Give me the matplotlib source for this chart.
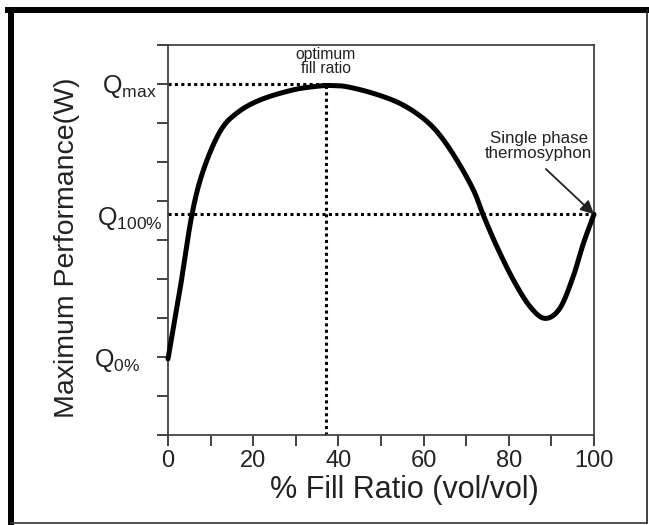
import matplotlib
matplotlib.use("Agg")
import matplotlib.pyplot as plt
from matplotlib.lines import Line2D
import numpy as np

plt.rcParams['font.family'] = ['Liberation Sans', 'DejaVu Sans']
plt.rcParams['mathtext.fontset'] = 'custom'
plt.rcParams['mathtext.rm'] = 'Liberation Sans'
plt.rcParams['mathtext.it'] = 'Liberation Sans:italic'

# Data
fill_ratio = [0, 2.8, 5.6, 8.3, 12.2, 16.1, 21.6, 29.4, 35.7, 38.5, 42, 48.2, 54.5,
              59.9, 63.8, 67.8, 71.7, 74, 77.2, 81.1, 85, 88.5, 92, 95.1, 97.5, 100]
performance = [1.95, 3.72, 5.64, 6.79, 7.78, 8.25, 8.59, 8.85, 8.95, 8.96, 8.93, 8.76, 8.5,
               8.12, 7.69, 7.05, 6.28, 5.64, 4.83, 3.97, 3.29, 2.99, 3.25, 4.06, 4.91, 5.66]
q_levels = [9.0, 5.66, 2.0]
q_labels = [r'Q$_{\mathrm{max}}$', r'Q$_{\mathrm{100\%}}$', r'Q$_{\mathrm{0\%}}$']
optimum_x = 37
x_ticks_major = [0, 20, 40, 60, 80, 100]

fig = plt.figure(figsize=(6.49, 5.25), dpi=100)
ax = fig.add_axes([168/649, 1-435/525, (594-168)/649, (435-45)/525])

xs = np.array(fill_ratio); ys = np.array(performance)

def catmull(x, y, n=20):
    px = np.concatenate([[2*x[0]-x[1]], x, [2*x[-1]-x[-2]]])
    py = np.concatenate([[2*y[0]-y[1]], y, [2*y[-1]-y[-2]]])
    ox, oy = [], []
    for i in range(1, len(px)-2):
        t = np.linspace(0, 1, n, endpoint=False)
        for arr, out in ((px, ox), (py, oy)):
            p0, p1, p2, p3 = arr[i-1], arr[i], arr[i+1], arr[i+2]
            out.extend(0.5*((2*p1) + (-p0+p2)*t + (2*p0-5*p1+4*p2-p3)*t**2 + (-p0+3*p1-3*p2+p3)*t**3))
    ox.append(x[-1]); oy.append(y[-1])
    return np.array(ox), np.array(oy)

cx, cy = catmull(xs, ys)
ax.plot(cx, cy, color='black', lw=3.6, solid_capstyle='round', solid_joinstyle='round', zorder=3, clip_on=False)

dot = dict(color='black', lw=2.2, linestyle=(0, (1, 1.1)), zorder=2)
ax.plot([0, optimum_x], [q_levels[0], q_levels[0]], **dot)
ax.plot([optimum_x, optimum_x], [0, q_levels[0]], **dot)
ax.plot([0, 100], [q_levels[1], q_levels[1]], **dot)

ax.set_xlim(0, 100)
ax.set_ylim(0, 10)
ax.set_xticks(np.arange(0, 101, 10))
ax.set_xticklabels([str(v) if v in x_ticks_major else '' for v in range(0, 101, 10)],
                   fontsize=17, color='#222222')
ax.set_yticks(np.arange(0, 11, 1))
ax.set_yticklabels([])
ax.tick_params(direction='out', length=8, width=1.3, color='#333333', pad=3)
for s in ax.spines.values():
    s.set_linewidth(1.3)
    s.set_color('#444444')

q_offsets = [(-11, -3), (-5, -4), (-28, -3)]
for lvl, lab, (dx, dy) in zip(q_levels, q_labels, q_offsets):
    ax.annotate(lab, xy=(0, lvl), xycoords=('axes fraction', 'data'), xytext=(dx*0.72, dy*0.72),
                textcoords='offset points', ha='right', va='center', fontsize=18, color='#222222')

ax.set_xlabel('% Fill Ratio (vol/vol)', fontsize=22, color='#222222')
ax.xaxis.set_label_coords(0.554, -0.102)
ax.set_ylabel('Maximum Performance(W)', fontsize=20.5, color='#222222')
ax.yaxis.set_label_coords(-0.2066, 0.481)

ax.text(optimum_x, 9.2, 'optimum\nfill ratio', ha='center', va='bottom', fontsize=11.3,
        linespacing=0.95, color='#222222')
ax.text(87, 7.03, 'Single phase\nthermosyphon', ha='center', va='bottom', fontsize=12.2,
        linespacing=0.95, color='#222222')
ax.annotate('', xy=(100, q_levels[1]), xytext=(88.7, 6.82),
            arrowprops=dict(arrowstyle='-|>', color='#222222', lw=1.3, mutation_scale=20,
                            shrinkA=0, shrinkB=0))

# outer frame
W, H = 649, 525
def fl(x0, y0, x1, y1, lw, c):
    fig.add_artist(Line2D([x0/W, x1/W], [1-y0/H, 1-y1/H], transform=fig.transFigure,
                          color=c, lw=lw, solid_capstyle='projecting'))
fl(11, 10, 11, 523, 4.3, 'black')
fl(8, 10, 647, 10, 4.3, 'black')
fl(647, 10, 647, 523, 1.2, '#222222')
fl(11, 523, 647, 523, 1.2, '#333333')

fig.savefig('out.png', dpi=100)
